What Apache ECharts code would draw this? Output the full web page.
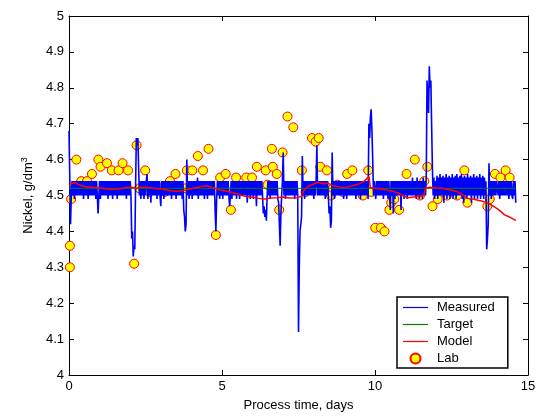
<!DOCTYPE html>
<html><head><meta charset="utf-8">
<script src="https://cdn.jsdelivr.net/npm/echarts@6/dist/echarts.min.js"></script>
<style>html,body{margin:0;padding:0;background:#fff}#c{width:543px;height:417px}</style>
</head><body><div id="c"></div>
<script>
// Measured (blue) sampled every 0.025 day from t=0 (20 samples per row = half a day)
const measuredStep = 0.025;
const measured = [
 4.68,4.55,4.42,4.50,4.54,4.50,4.54,4.49,4.54,4.50,4.54,4.50,4.54,4.50,4.54,4.50,4.54,4.50,4.54,4.49,
 4.54,4.50,4.54,4.50,4.54,4.49,4.54,4.50,4.54,4.50,4.54,4.50,4.54,4.50,4.54,4.49,4.54,4.50,4.45,4.50,
 4.54,4.49,4.54,4.50,4.54,4.50,4.54,4.50,4.54,4.50,4.54,4.49,4.54,4.50,4.54,4.50,4.54,4.49,4.54,4.50,
 4.54,4.50,4.54,4.49,4.54,4.50,4.54,4.50,4.54,4.50,4.54,4.50,4.54,4.50,4.54,4.49,4.54,4.50,4.54,4.50,
 4.54,4.50,4.38,4.40,4.33,4.36,4.35,4.52,4.66,4.64,4.66,4.58,4.50,4.54,4.49,4.54,4.50,4.54,4.49,4.54,
 4.50,4.54,4.56,4.49,4.54,4.50,4.54,4.48,4.54,4.50,4.54,4.50,4.54,4.50,4.54,4.49,4.54,4.50,4.54,4.50,
 4.47,4.54,4.50,4.54,4.49,4.54,4.50,4.54,4.50,4.54,4.50,4.54,4.50,4.54,4.49,4.54,4.50,4.54,4.50,4.54,
 4.49,4.54,4.50,4.54,4.50,4.54,4.50,4.54,4.49,4.54,4.46,4.44,4.40,4.42,4.60,4.50,4.54,4.49,4.54,4.50,
 4.54,4.49,4.54,4.50,4.54,4.50,4.54,4.50,4.55,4.49,4.54,4.50,4.54,4.50,4.54,4.50,4.54,4.49,4.54,4.50,
 4.54,4.49,4.54,4.50,4.54,4.50,4.54,4.50,4.54,4.50,4.54,4.46,4.40,4.49,4.54,4.50,4.54,4.49,4.54,4.50,
 4.54,4.49,4.54,4.50,4.54,4.50,4.54,4.50,4.54,4.50,4.47,4.50,4.54,4.49,4.54,4.50,4.54,4.50,4.54,4.49,
 4.54,4.50,4.54,4.49,4.54,4.50,4.54,4.50,4.54,4.50,4.54,4.50,4.54,4.48,4.54,4.50,4.54,4.49,4.54,4.50,
 4.54,4.49,4.54,4.50,4.54,4.47,4.54,4.50,4.54,4.50,4.54,4.50,4.54,4.50,4.45,4.47,4.44,4.46,4.43,4.50,
 4.54,4.50,4.54,4.49,4.54,4.50,4.54,4.50,4.54,4.50,4.54,4.50,4.54,4.49,4.48,4.42,4.36,4.45,4.50,4.54,
 4.62,4.50,4.54,4.49,4.54,4.50,4.54,4.50,4.54,4.50,4.54,4.50,4.54,4.50,4.54,4.49,4.54,4.50,4.54,4.50,
 4.12,4.30,4.40,4.42,4.44,4.61,4.50,4.54,4.49,4.54,4.50,4.54,4.50,4.54,4.50,4.54,4.50,4.54,4.50,4.54,
 4.49,4.54,4.50,4.54,4.64,4.50,4.54,4.50,4.54,4.50,4.54,4.50,4.54,4.50,4.54,4.49,4.54,4.50,4.54,4.50,
 4.45,4.47,4.41,4.43,4.62,4.50,4.54,4.49,4.54,4.50,4.54,4.50,4.54,4.50,4.54,4.50,4.54,4.50,4.54,4.49,
 4.54,4.50,4.54,4.49,4.54,4.50,4.54,4.50,4.54,4.50,4.54,4.50,4.54,4.50,4.54,4.49,4.54,4.50,4.54,4.50,
 4.54,4.49,4.54,4.50,4.54,4.50,4.54,4.50,4.54,4.50,4.54,4.49,4.70,4.66,4.72,4.74,4.68,4.60,4.50,4.54,
 4.54,4.49,4.54,4.50,4.54,4.50,4.54,4.50,4.54,4.50,4.54,4.49,4.54,4.50,4.54,4.50,4.54,4.49,4.54,4.50,
 4.46,4.54,4.50,4.54,4.45,4.54,4.49,4.54,4.50,4.54,4.50,4.54,4.50,4.54,4.46,4.54,4.50,4.54,4.49,4.54,
 4.50,4.54,4.49,4.54,4.50,4.54,4.50,4.54,4.50,4.55,4.50,4.54,4.50,4.54,4.49,4.55,4.50,4.54,4.49,4.54,
 4.50,4.54,4.49,4.55,4.50,4.54,4.50,4.55,4.82,4.78,4.73,4.86,4.80,4.82,4.70,4.58,4.50,4.55,4.49,4.54,
 4.50,4.555,4.49,4.55,4.50,4.56,4.50,4.55,4.50,4.555,4.48,4.55,4.50,4.56,4.49,4.55,4.50,4.555,4.49,4.55,
 4.50,4.56,4.49,4.55,4.50,4.555,4.49,4.56,4.50,4.55,4.50,4.555,4.50,4.56,4.49,4.55,4.48,4.555,4.50,4.55,
 4.49,4.56,4.50,4.55,4.50,4.555,4.48,4.55,4.50,4.56,4.49,4.55,4.50,4.555,4.49,4.55,4.50,4.56,4.49,4.55,
 4.50,4.555,4.49,4.55,4.50,4.54,4.35,4.38,4.42,4.59,4.50,4.54,4.49,4.54,4.50,4.54,4.50,4.54,4.50,4.54,
 4.54,4.50,4.54,4.49,4.54,4.50,4.54,4.50,4.54,4.50,4.54,4.50,4.54,4.50,4.54,4.49,4.54,4.50,4.54,4.50,
 4.49,4.54,4.50,4.54,4.48
];
const targetValue = 4.52;
const targetRange = [0, 14.6];
const modelTimes = [0,0.1,0.2,0.3,0.4,0.5,0.6,0.7,0.8,0.9,1.0,1.2,1.4,1.6,1.8,2.0,2.1,2.2,2.3,2.5,2.7,2.9,3.1,3.3,3.5,3.7,3.9,4.1,4.3,4.5,4.7,4.9,5.1,5.3,5.5,5.65,5.8,6.0,6.2,6.4,6.6,6.8,7.0,7.2,7.45,7.6,7.68,7.8,8.0,8.13,8.3,8.45,8.6,8.8,8.95,9.1,9.3,9.5,9.65,9.8,9.83,9.85,10.0,10.2,10.4,10.6,10.8,10.95,11.07,11.25,11.45,11.6,11.65,11.8,12.0,12.2,12.4,12.65,12.85,13.0,13.2,13.4,13.55,13.7,13.89,14.05,14.23,14.4,14.57,14.6];
const modelValues = [4.528,4.534,4.536,4.531,4.527,4.525,4.523,4.524,4.522,4.523,4.521,4.519,4.517,4.518,4.521,4.524,4.522,4.519,4.523,4.524,4.521,4.519,4.517,4.514,4.512,4.513,4.517,4.521,4.525,4.527,4.522,4.516,4.513,4.509,4.505,4.500,4.497,4.495,4.492,4.490,4.493,4.494,4.496,4.493,4.494,4.498,4.515,4.524,4.532,4.537,4.533,4.535,4.528,4.524,4.521,4.524,4.528,4.533,4.540,4.553,4.556,4.521,4.520,4.518,4.515,4.512,4.505,4.498,4.494,4.496,4.497,4.502,4.520,4.523,4.521,4.520,4.517,4.512,4.503,4.492,4.490,4.486,4.483,4.478,4.469,4.460,4.446,4.440,4.432,4.430];
const labTimes = [0.03,0.03,0.07,0.24,0.40,0.59,0.75,0.96,1.03,1.24,1.40,1.62,1.75,1.93,2.13,2.21,2.30,2.49,2.63,2.74,2.96,3.14,3.30,3.48,3.64,3.81,3.85,4.03,4.21,4.38,4.56,4.80,4.94,5.12,5.29,5.46,5.63,5.79,5.98,6.14,6.43,6.49,6.63,6.66,6.79,6.87,6.98,7.14,7.33,7.61,7.73,7.94,8.06,8.16,8.21,8.43,8.56,8.63,8.77,8.95,9.09,9.26,9.43,9.60,9.78,9.88,10.01,10.19,10.31,10.47,10.53,10.63,10.79,10.92,11.03,11.09,11.30,11.47,11.61,11.71,11.88,12.05,12.20,12.35,12.52,12.68,12.85,12.92,13.02,13.25,13.41,13.67,13.75,13.92,14.10,14.27,14.40];
const labValues = [4.30,4.36,4.49,4.60,4.54,4.54,4.56,4.60,4.58,4.59,4.57,4.57,4.59,4.57,4.31,4.64,4.52,4.57,4.51,4.52,4.52,4.51,4.54,4.56,4.52,4.52,4.57,4.57,4.61,4.57,4.63,4.39,4.55,4.56,4.46,4.55,4.52,4.55,4.55,4.58,4.57,4.53,4.63,4.58,4.56,4.46,4.62,4.72,4.69,4.57,4.51,4.66,4.65,4.66,4.58,4.57,4.50,4.52,4.53,4.51,4.56,4.57,4.52,4.50,4.57,4.51,4.41,4.41,4.40,4.46,4.48,4.49,4.46,4.52,4.56,4.52,4.60,4.50,4.54,4.58,4.47,4.49,4.53,4.50,4.52,4.50,4.52,4.57,4.48,4.52,4.52,4.47,4.49,4.56,4.55,4.57,4.55];
const xTicks = {min: 0, max: 15, interval: 5};
const yTicks = {min: 4, max: 5, interval: 0.1};

const font = 'Liberation Sans, Arial, sans-serif';
const chart = echarts.init(document.getElementById('c'), null, {renderer: 'canvas'});
const axisCommon = {
  axisLine: {show: true, onZero: false, lineStyle: {color: '#000', width: 1}},
  axisTick: {show: true, inside: true, length: 5, lineStyle: {color: '#000'}},
  splitLine: {show: false}
};
const lineIcon = 'path://M0,0L25,0L25,1.2L0,1.2Z';
chart.setOption({
  animation: false,
  backgroundColor: '#fff',
  grid: {left: 69, right: 15, top: 16, bottom: 39},
  xAxis: [
    Object.assign({type: 'value', position: 'bottom', min: xTicks.min, max: xTicks.max, interval: xTicks.interval,
      name: 'Process time, days', nameLocation: 'middle', nameGap: 24,
      nameTextStyle: {fontFamily: font, fontSize: 13, color: '#000'},
      axisLabel: {fontFamily: font, fontSize: 13, color: '#000', margin: 5}}, axisCommon),
    Object.assign({type: 'value', position: 'top', min: xTicks.min, max: xTicks.max, interval: xTicks.interval,
      axisLabel: {show: false}}, axisCommon)
  ],
  yAxis: [
    Object.assign({type: 'value', position: 'left', min: yTicks.min, max: yTicks.max, interval: yTicks.interval,
      name: '{a|Nickel, g/dm}{s|3}', nameLocation: 'middle', nameGap: 29, nameRotate: 90,
      nameTextStyle: {fontFamily: font, fontSize: 13, color: '#000',
        rich: {a: {fontFamily: font, fontSize: 13, color: '#000', lineHeight: 16},
               s: {fontFamily: font, fontSize: 9, color: '#000', verticalAlign: 'top', lineHeight: 16, padding: [0,0,6,0]}}},
      axisLabel: {fontFamily: font, fontSize: 13, color: '#000', margin: 5}}, axisCommon),
    Object.assign({type: 'value', position: 'right', min: yTicks.min, max: yTicks.max, interval: yTicks.interval,
      axisLabel: {show: false}}, axisCommon)
  ],
  legend: {
    orient: 'vertical', left: 397, top: 297,
    padding: [4, 13, 3, 6],
    itemWidth: 25, itemHeight: 10, itemGap: 4,
    symbolKeepAspect: true,
    backgroundColor: '#fff', borderColor: '#000', borderWidth: 1.5, borderRadius: 0,
    textStyle: {fontFamily: font, fontSize: 13, color: '#000', padding: [0, 0, 0, 4]},
    data: [
      {name: 'Measured', icon: lineIcon}, {name: 'Target', icon: lineIcon}, {name: 'Model', icon: lineIcon},
      {name: 'Lab', icon: 'circle'}
    ]
  },
  series: [
    {name: 'Measured', type: 'line', symbol: 'none', showSymbol: false,
      lineStyle: {color: '#0000ff', width: 1.6}, itemStyle: {color: '#0000ff'},
      data: measured.map((v, i) => [+(i * measuredStep).toFixed(3), v])},
    {name: 'Target', type: 'line', symbol: 'none', showSymbol: false,
      lineStyle: {color: '#008000', width: 1}, itemStyle: {color: '#008000'},
      data: targetRange.map(t => [t, targetValue])},
    {name: 'Model', type: 'line', symbol: 'none', showSymbol: false,
      lineStyle: {color: '#ff0000', width: 1.5}, itemStyle: {color: '#ff0000'},
      data: modelTimes.map((t, i) => [t, modelValues[i]])},
    {name: 'Lab', type: 'scatter', symbol: 'circle', symbolSize: 9,
      itemStyle: {color: '#ffff00', borderColor: '#ff0000', borderWidth: 1, opacity: 1},
      data: labTimes.map((t, i) => [t, labValues[i]])}
  ]
});
</script></body></html>
